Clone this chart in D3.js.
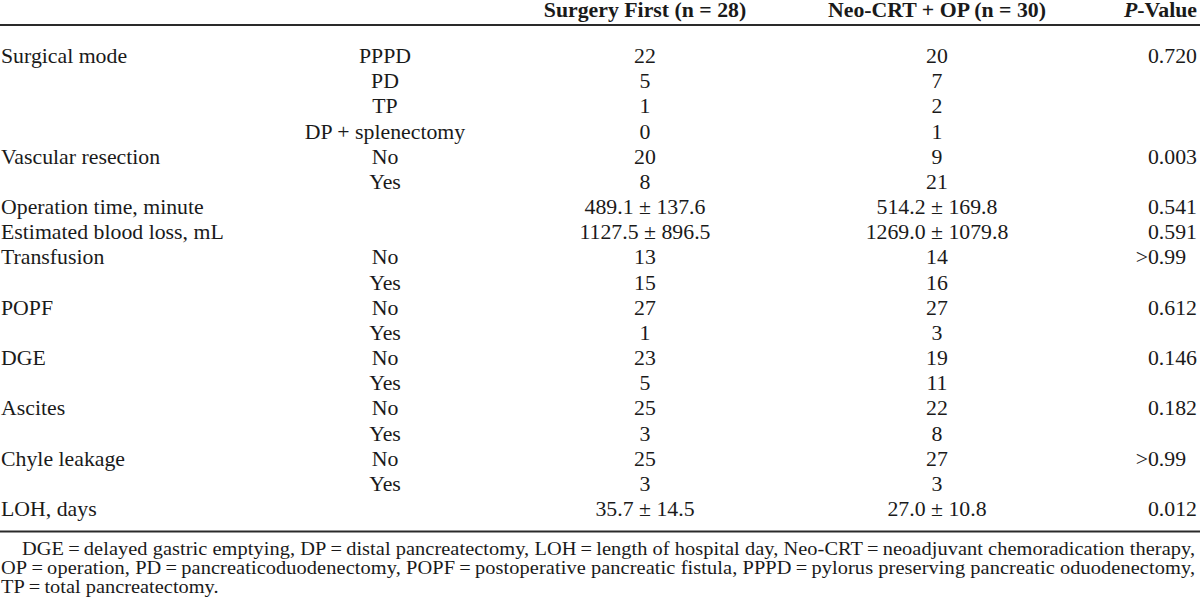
<!DOCTYPE html>
<html>
<head>
<meta charset="utf-8">
<script src="https://cdn.jsdelivr.net/npm/d3@7"></script>
<style>
  html, body { margin: 0; padding: 0; background: #fff; }
  svg { display: block; }
  text { font-family: "Liberation Serif", "Times New Roman", serif; fill: #1a1a1a; }
</style>
</head>
<body>
<div id="chart"></div>
<script>
// ---- data ----
const headers = ["", "", "Surgery First (n = 28)", "Neo-CRT + OP (n = 30)", "P-Value"];
const variables = ["Surgical mode", "", "", "", "Vascular resection", "", "Operation time, minute",
  "Estimated blood loss, mL", "Transfusion", "", "POPF", "", "DGE", "", "Ascites", "", "Chyle leakage", "", "LOH, days"];
const levels = ["PPPD", "PD", "TP", "DP + splenectomy", "No", "Yes", "", "", "No", "Yes",
  "No", "Yes", "No", "Yes", "No", "Yes", "No", "Yes", ""];
const surgeryFirst = ["22", "5", "1", "0", "20", "8", "489.1 ± 137.6", "1127.5 ± 896.5",
  "13", "15", "27", "1", "23", "5", "25", "3", "25", "3", "35.7 ± 14.5"];
const neoCRT = ["20", "7", "2", "1", "9", "21", "514.2 ± 169.8", "1269.0 ± 1079.8",
  "14", "16", "27", "3", "19", "11", "22", "8", "27", "3", "27.0 ± 10.8"];
const pValues = ["0.720", "", "", "", "0.003", "", "0.541", "0.591", ">0.99", "", "0.612", "",
  "0.146", "", "0.182", "", ">0.99", "", "0.012"];
const footnotes = [
  "DGE\u2009=\u2009delayed gastric emptying, DP\u2009=\u2009distal pancreatectomy, LOH\u2009=\u2009length of hospital day, Neo-CRT\u2009=\u2009neoadjuvant chemoradication therapy,",
  "OP\u2009=\u2009operation, PD\u2009=\u2009pancreaticoduodenectomy, POPF\u2009=\u2009postoperative pancreatic fistula, PPPD\u2009=\u2009pylorus preserving pancreatic oduodenectomy,",
  "TP\u2009=\u2009total pancreatectomy."
];

// ---- layout ----
const W = 1200, H = 611;
const fs = 21.8, fsNote = 20.4;
const kBody = 0.92, kNote = 0.9;   // vertical squeeze of the reference glyphs
const svg = d3.select("#chart").append("svg").attr("width", W).attr("height", H);
svg.append("rect").attr("width", W).attr("height", H).attr("fill", "#fff");

const place = (x, yy, k) => `translate(${x},${yy}) scale(1,${k})`;

const rows = d3.range(variables.length);
const y = d3.scalePoint().domain(rows).range([63, 516]);
const colX = { variable: 1, level: 385, sf: 645, neo: 937, pDec: 1197 - 1.75 * fs };

// header
const headerY = 17;
const hdr = svg.append("g").attr("font-weight", "bold").attr("font-size", fs);
hdr.append("text").attr("transform", place(colX.sf, headerY, kBody)).attr("text-anchor", "middle").text(headers[2]);
hdr.append("text").attr("transform", place(colX.neo, headerY, kBody)).attr("text-anchor", "middle").text(headers[3]);
const pv = hdr.append("text").attr("transform", place(1197, headerY, kBody)).attr("text-anchor", "end");
pv.append("tspan").attr("font-style", "italic").text(headers[4].slice(0, 1));
pv.append("tspan").text(headers[4].slice(1));

// rules
svg.append("line").attr("x1", 0).attr("x2", W).attr("y1", 25).attr("y2", 25)
  .attr("stroke", "#2a2a2a").attr("stroke-width", 1.8);
svg.append("line").attr("x1", 0).attr("x2", W).attr("y1", 531.5).attr("y2", 531.5)
  .attr("stroke", "#2a2a2a").attr("stroke-width", 2);

// body
const body = svg.append("g").attr("font-size", fs);
function column(cls, x, anchor, values) {
  body.selectAll("text." + cls).data(rows.filter(i => values[i] !== "")).join("text").attr("class", cls)
    .attr("transform", i => place(x, y(i), kBody)).attr("text-anchor", anchor).text(i => values[i]);
}
column("var", colX.variable, "start", variables);
column("lvl", colX.level, "middle", levels);
column("sf", colX.sf, "middle", surgeryFirst);
column("neo", colX.neo, "middle", neoCRT);
// p-values aligned on the decimal point
column("pint", colX.pDec, "end", pValues.map(v => v ? v.split(".")[0] : ""));
column("pfrac", colX.pDec, "start", pValues.map(v => v ? "." + v.split(".")[1] : ""));

// footnotes
const noteY = [555, 574, 593];
const noteX = [22, 1, 1];
const notes = svg.append("g").attr("font-size", fsNote);
notes.selectAll("text").data(footnotes).join("text")
  .attr("transform", (d, i) => place(noteX[i], noteY[i], kNote))
  .text(d => d)
  .each(function (d, i) {
    if (i < 2) d3.select(this).attr("textLength", 1195 - noteX[i]).attr("lengthAdjust", "spacing");
  });
</script>
</body>
</html>
